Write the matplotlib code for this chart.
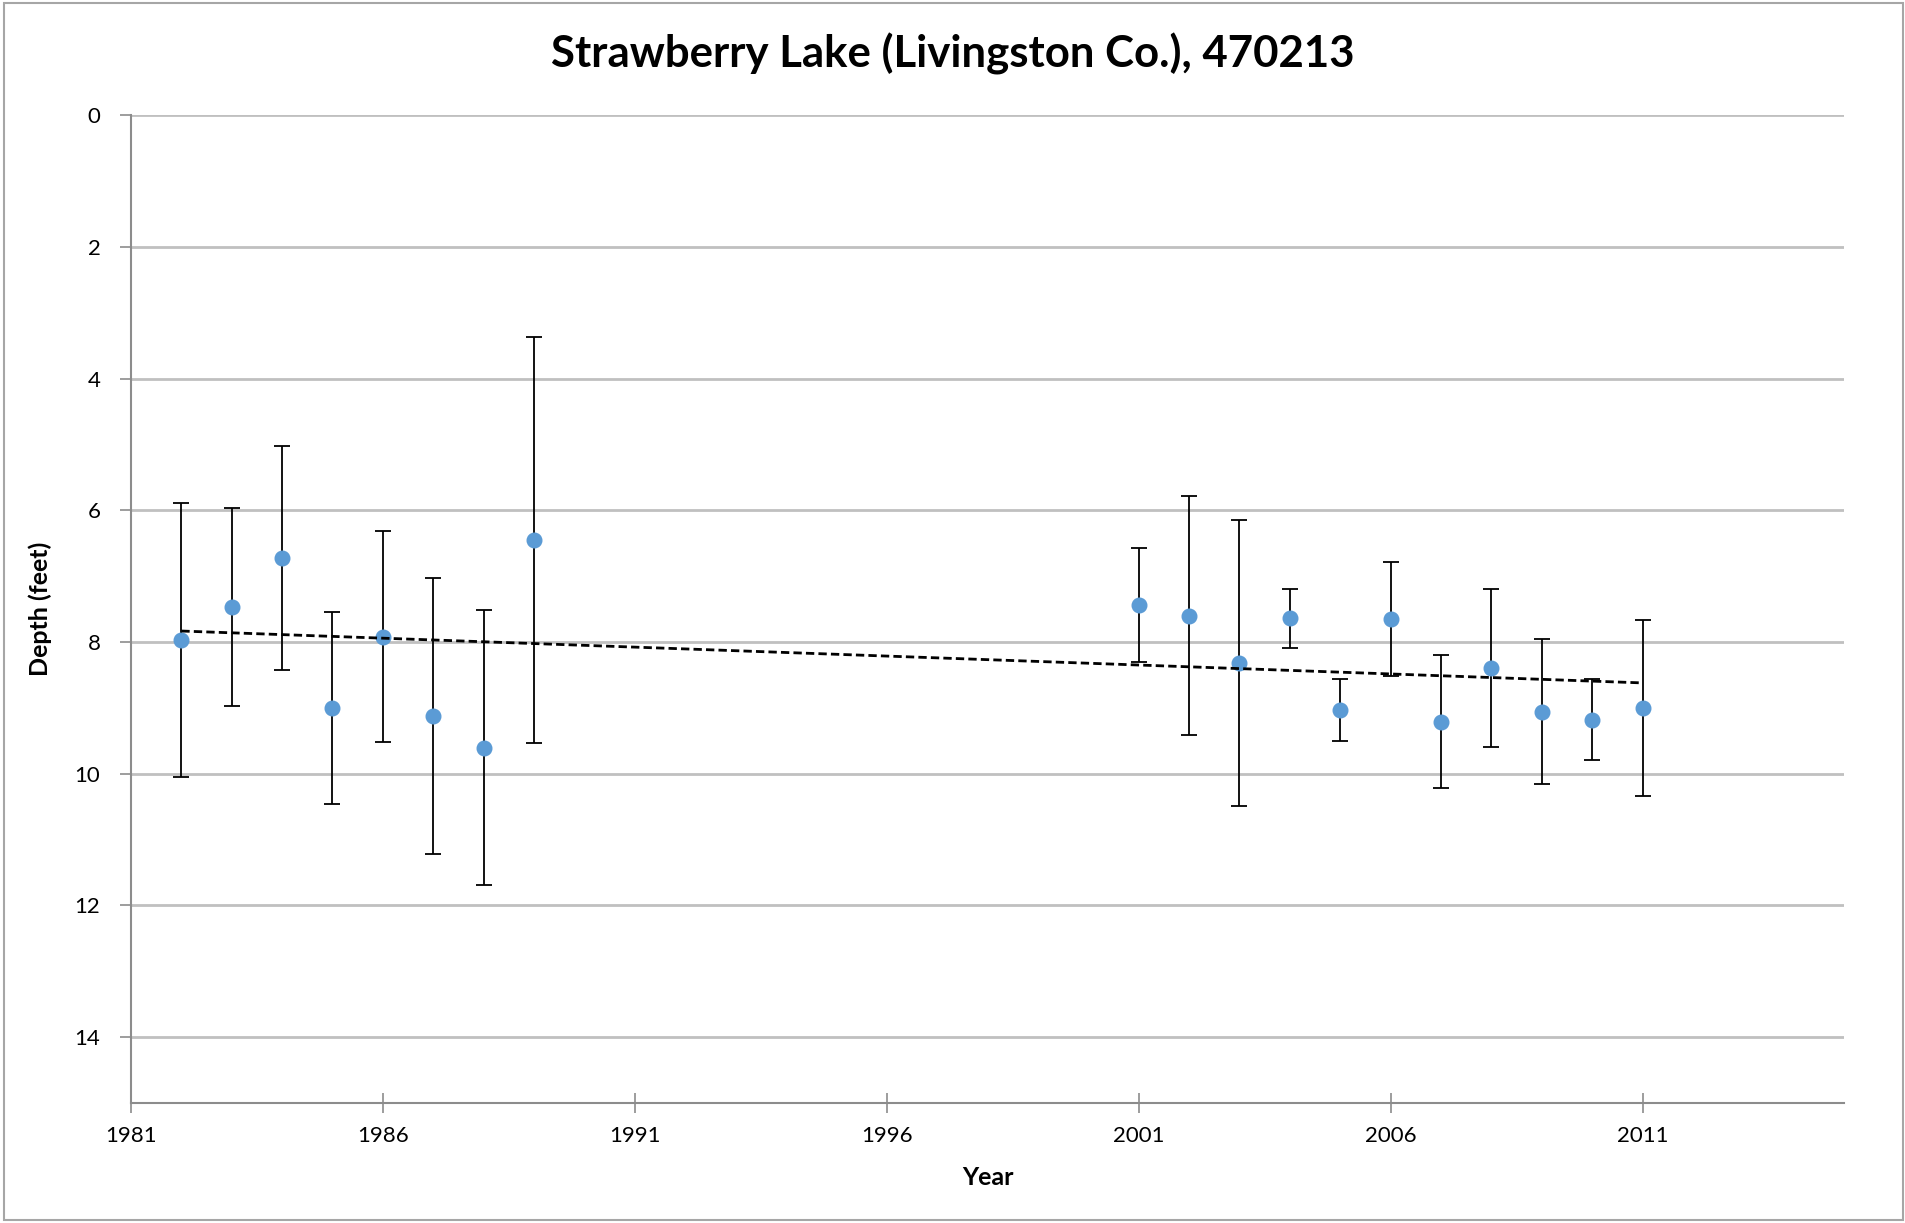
import matplotlib
matplotlib.use("Agg")
import matplotlib.pyplot as plt
import numpy as np
from matplotlib.patches import Rectangle

plt.rcParams["font.family"] = ["Lato", "DejaVu Sans"]

# Mean Secchi depth per year with its spread
years = [1982, 1983, 1984, 1985, 1986, 1987, 1988, 1989,
         2001, 2002, 2003, 2004, 2005, 2006, 2007, 2008, 2009, 2010, 2011]
depth = [7.97, 7.47, 6.72, 9.00, 7.92, 9.13, 9.61, 6.45,
         7.44, 7.60, 8.32, 7.64, 9.03, 7.65, 9.21, 8.40, 9.06, 9.18, 9.00]
spread = [2.08, 1.51, 1.70, 1.46, 1.60, 2.10, 2.09, 3.08,
          0.87, 1.82, 2.17, 0.45, 0.47, 0.87, 1.01, 1.20, 1.10, 0.61, 1.34]

x_ticks = [1981, 1986, 1991, 1996, 2001, 2006, 2011]
y_ticks = [0, 2, 4, 6, 8, 10, 12, 14]

fig = plt.figure(figsize=(19.06, 12.23), dpi=100)
ax = fig.add_axes([0.0687, 0.0985, 0.8988, 0.8071])

ax.errorbar(years, depth, yerr=spread, fmt="none", ecolor="black",
            elinewidth=1.3, capsize=6, capthick=1.3, zorder=3)
ax.plot(years, depth, "o", color="#5B9BD5", markersize=10.5, zorder=4)

# Linear trend over all sampled years
coef = np.polyfit(years, depth, 1)
trend_x = np.array([min(years), max(years)])
ax.plot(trend_x, np.polyval(coef, trend_x), color="black", linestyle=(0, (3, 1.5)),
        linewidth=2, zorder=5)

ax.set_xlim(1981, 2015)
ax.set_ylim(15, 0)
ax.set_xticks(x_ticks)
ax.set_yticks(y_ticks)
ax.yaxis.grid(True, color="#c0c0c0", linewidth=2)
ax.set_axisbelow(True)

for side in ["top", "right"]:
    ax.spines[side].set_visible(False)
for side in ["left", "bottom"]:
    ax.spines[side].set_color("#8c8c8c")
    ax.spines[side].set_linewidth(1.5)

ax.tick_params(axis="x", direction="inout", length=14, width=1.2, color="#8c8c8c",
               labelsize=16, pad=10)
ax.tick_params(axis="y", direction="out", length=8, width=1.2, color="#8c8c8c",
               labelsize=16, pad=14)

fig.suptitle("Strawberry Lake (Livingston Co.), 470213", fontsize=31.5,
             fontweight="bold", x=0.5, y=0.956, va="center")
ax.set_xlabel("Year", fontsize=18, fontweight="bold", labelpad=14)
ax.set_ylabel("Depth (feet)", fontsize=18, fontweight="bold", labelpad=16)

fig.patches.append(Rectangle((4, 3), 1899, 1217, transform=None, fill=False,
                             edgecolor="#a6a6a6", linewidth=1.5))

fig.savefig("out.png", dpi=100)
